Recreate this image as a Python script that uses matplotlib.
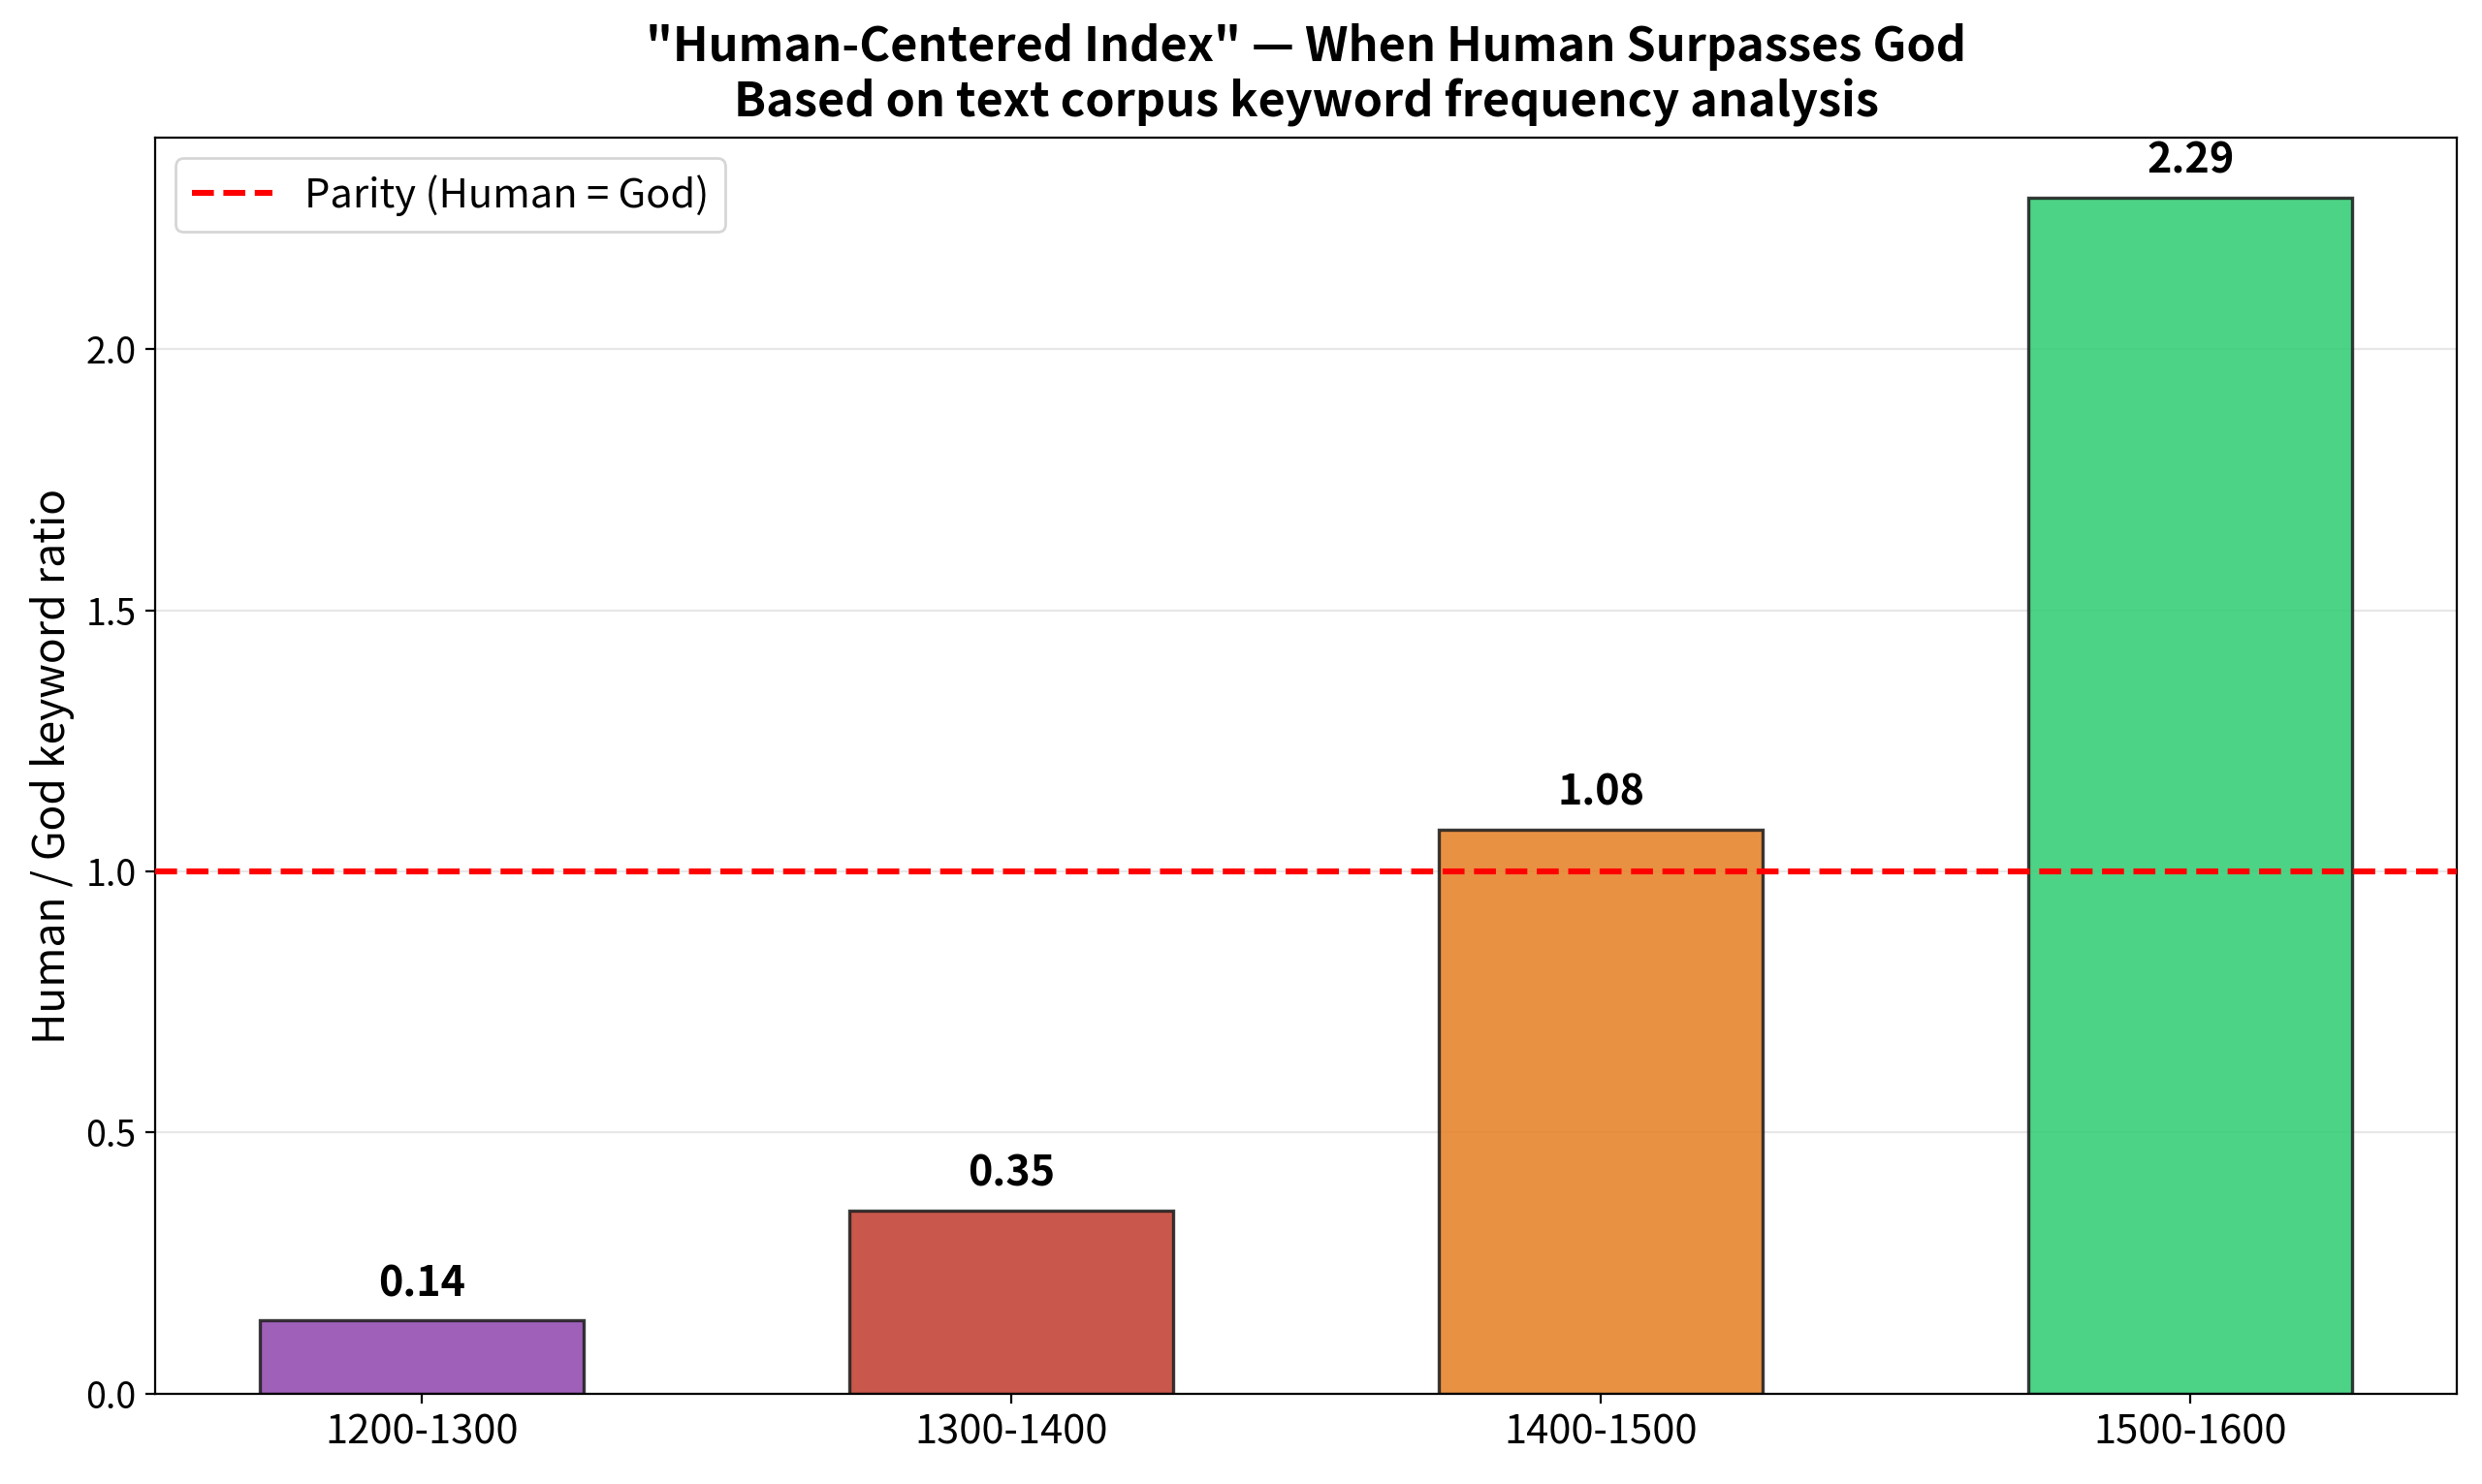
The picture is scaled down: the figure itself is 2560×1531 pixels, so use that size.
import matplotlib
matplotlib.use("Agg")
import matplotlib.pyplot as plt

plt.rcParams["font.family"] = ["Noto Sans CJK SC", "DejaVu Sans"]

periods = ["1200-1300", "1300-1400", "1400-1500", "1500-1600"]
ratios = [0.14, 0.35, 1.08, 2.29]
colors = ["#8e44ad", "#c0392b", "#e67e22", "#2ecc71"]
parity = 1.0

fig, ax = plt.subplots(figsize=(12.8, 7.655), dpi=200)

x = range(len(periods))
bars = ax.bar(x, ratios, width=0.55, color=colors, alpha=0.85,
              edgecolor="#1a1a1a", linewidth=1.2)
ax.axhline(parity, color="red", linestyle="--", linewidth=2.2,
           label="Parity (Human = God)", zorder=3)

for bar, val in zip(bars, ratios):
    ax.text(bar.get_x() + bar.get_width() / 2, val + 0.03, f"{val:.2f}",
            ha="center", va="bottom", fontsize=15.5, fontweight="bold")

ax.set_xticks(list(x))
ax.set_xticklabels(periods, fontsize=15)
ax.tick_params(axis="y", labelsize=13.5)
ax.set_ylabel("Human / God keyword ratio", fontsize=16)
ax.set_title('"Human-Centered Index" \u2014 When Human Surpasses God\n'
             "Based on text corpus keyword frequency analysis",
             fontsize=17.5, fontweight="bold", linespacing=1.2, pad=8)
ax.grid(axis="y", alpha=0.3)
ax.set_axisbelow(True)
ax.legend(loc="upper left", fontsize=15)

fig.subplots_adjust(left=0.0625, right=0.99, top=0.907, bottom=0.061)
fig.savefig("out.png", dpi=200)
